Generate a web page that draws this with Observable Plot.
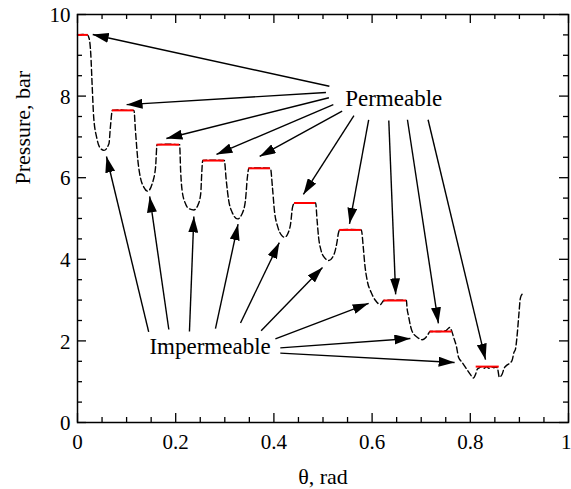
<!DOCTYPE html>
<html>
<head>
<meta charset="utf-8">
<script src="https://cdn.jsdelivr.net/npm/d3@7"></script>
<script src="https://cdn.jsdelivr.net/npm/@observablehq/plot@0.6"></script>
<style>
  html, body { margin: 0; padding: 0; background: #fff; }
</style>
</head>
<body>
<div id="chart"></div>
<script>
// ---- Data ----
const thetaRad = [
  0.000, 0.010, 0.020, 0.024, 0.027, 0.030, 0.033, 0.039, 0.045, 0.054, 0.064, 0.067, 0.071,
  0.085, 0.100, 0.115,
  0.118, 0.123, 0.128, 0.135, 0.143, 0.152, 0.159, 0.162,
  0.185, 0.208,
  0.210, 0.213, 0.220, 0.227, 0.237, 0.245, 0.251, 0.253, 0.255,
  0.277, 0.299,
  0.303, 0.308, 0.315, 0.326, 0.335, 0.342, 0.346, 0.349,
  0.371, 0.393,
  0.397, 0.401, 0.408, 0.415, 0.422, 0.428, 0.434, 0.438, 0.442,
  0.464, 0.485,
  0.488, 0.491, 0.496, 0.503, 0.512, 0.519, 0.525, 0.529, 0.531, 0.534,
  0.556, 0.578,
  0.582, 0.585, 0.590, 0.598, 0.607, 0.617, 0.621, 0.624,
  0.647, 0.670,
  0.671, 0.674, 0.681, 0.692, 0.702, 0.709, 0.714, 0.718,
  0.735, 0.750, 0.753, 0.758, 0.762,
  0.766, 0.772, 0.776, 0.783, 0.792, 0.800, 0.806, 0.811, 0.814,
  0.818, 0.823, 0.828, 0.833, 0.838, 0.843, 0.848, 0.853, 0.856, 0.859, 0.865, 0.869,
  0.874, 0.880, 0.885, 0.889, 0.892, 0.895, 0.899, 0.902, 0.906
];
const pressureBar = [
  9.50, 9.51, 9.50, 9.40, 9.04, 8.22, 7.48, 6.99, 6.75, 6.67, 6.83, 7.24, 7.65,
  7.66, 7.65, 7.65,
  7.16, 6.42, 6.01, 5.77, 5.67, 5.85, 6.26, 6.81,
  6.82, 6.81,
  6.18, 5.69, 5.36, 5.24, 5.21, 5.32, 5.61, 6.10, 6.42,
  6.43, 6.42,
  5.93, 5.44, 5.15, 4.99, 5.11, 5.44, 6.01, 6.23,
  6.24, 6.23,
  5.77, 5.20, 4.79, 4.60, 4.54, 4.62, 4.87, 5.28, 5.38,
  5.39, 5.38,
  4.95, 4.54, 4.22, 4.04, 3.97, 4.04, 4.22, 4.46, 4.62, 4.72,
  4.73, 4.72,
  4.30, 3.89, 3.48, 3.19, 2.99, 2.89, 2.95, 2.99,
  3.00, 2.99,
  2.83, 2.62, 2.25, 2.09, 2.03, 2.08, 2.16, 2.23,
  2.23, 2.25, 2.28, 2.33, 2.25,
  2.09, 1.85, 1.60, 1.48, 1.32, 1.18, 1.09, 1.19, 1.30,
  1.34, 1.37, 1.33, 1.37, 1.33, 1.37, 1.34, 1.36, 1.30, 1.11, 1.19, 1.33,
  1.40, 1.45, 1.52, 1.72, 1.80, 2.09, 2.66, 3.05, 3.15
];

// permeable (red) plateaus
const plateauStart = [0.002, 0.071, 0.162, 0.256, 0.349, 0.442, 0.534, 0.624, 0.718, 0.812];
const plateauEnd   = [0.022, 0.115, 0.208, 0.299, 0.393, 0.485, 0.578, 0.670, 0.763, 0.859];
const plateauLevel = [9.50, 7.65, 6.81, 6.42, 6.23, 5.38, 4.72, 2.99, 2.23, 1.37];

// annotation arrows (data coordinates): from label to feature
const permFromX = [0.513, 0.506, 0.512, 0.521, 0.539, 0.563, 0.593, 0.634, 0.672, 0.714];
const permFromY = [8.24, 8.09, 7.96, 7.79, 7.63, 7.52, 7.42, 7.40, 7.42, 7.42];
const permToX   = [0.031, 0.100, 0.181, 0.283, 0.371, 0.460, 0.554, 0.648, 0.735, 0.831];
const permToY   = [9.51, 7.79, 6.96, 6.57, 6.52, 5.59, 4.87, 3.14, 2.43, 1.54];

const impFromX = [0.145, 0.186, 0.228, 0.281, 0.332, 0.374, 0.403, 0.413, 0.413];
const impFromY = [2.22, 2.28, 2.23, 2.30, 2.44, 2.25, 2.05, 1.83, 1.70];
const impToX   = [0.059, 0.147, 0.237, 0.327, 0.411, 0.499, 0.593, 0.678, 0.768];
const impToY   = [6.52, 5.54, 5.05, 4.86, 4.41, 3.80, 2.92, 2.06, 1.47];

const labelText = ["Permeable", "Impermeable"];
const labelX = [0.644, 0.270];
const labelY = [7.95, 1.87];

const xMajor = [0, 0.2, 0.4, 0.6, 0.8, 1];
const yMajor = [0, 2, 4, 6, 8, 10];
const xMinor = d3.range(1, 20).map(i => i * 0.05).filter(v => Math.abs(v * 5 - Math.round(v * 5)) > 1e-9);
const yMinor = d3.range(1, 20).map(i => i * 0.5).filter(v => v % 2 !== 0);

const xTitle = "θ, rad";
const yTitle = "Pressure, bar";

// ---- Build tables ----
const curve = thetaRad.map((x, i) => ({x, y: pressureBar[i]}));
const plateaus = plateauLevel.map((y, i) => ({x1: plateauStart[i], x2: plateauEnd[i], y}));
const arrows = [
  ...permFromX.map((x, i) => ({x1: x, y1: permFromY[i], x2: permToX[i], y2: permToY[i]})),
  ...impFromX.map((x, i) => ({x1: x, y1: impFromY[i], x2: impToX[i], y2: impToY[i]}))
];
const labels = labelText.map((t, i) => ({t, x: labelX[i], y: labelY[i]}));

const W = 571, H = 489;
const mTop = 14, mBottom = 67, mLeft = 77, mRight = 3;
const innerW = W - mLeft - mRight, innerH = H - mTop - mBottom;
const major = 9, minor = 5;
const font = "'Liberation Serif', 'Times New Roman', serif";

const xInner = xMajor.slice(0, -1);
const xLast = xMajor.slice(-1);

const chart = Plot.plot({
  width: W, height: H,
  marginTop: mTop, marginBottom: mBottom, marginLeft: mLeft, marginRight: mRight,
  style: {fontFamily: font, fontSize: "21px", background: "#fff", color: "#000"},
  x: {domain: [0, 1]},
  y: {domain: [0, 10]},
  marks: [
    // inward ticks on all four sides
    Plot.tickX(xMajor, {x: d => d, insetTop: innerH - major, stroke: "#000", strokeWidth: 1.3}),
    Plot.tickX(xMajor, {x: d => d, insetBottom: innerH - major, stroke: "#000", strokeWidth: 1.3}),
    Plot.tickX(xMinor, {x: d => d, insetTop: innerH - minor, stroke: "#000", strokeWidth: 1.3}),
    Plot.tickX(xMinor, {x: d => d, insetBottom: innerH - minor, stroke: "#000", strokeWidth: 1.3}),
    Plot.tickY(yMajor, {y: d => d, insetRight: innerW - major, stroke: "#000", strokeWidth: 1.3}),
    Plot.tickY(yMajor, {y: d => d, insetLeft: innerW - major, stroke: "#000", strokeWidth: 1.3}),
    Plot.tickY(yMinor, {y: d => d, insetRight: innerW - minor, stroke: "#000", strokeWidth: 1.3}),
    Plot.tickY(yMinor, {y: d => d, insetLeft: innerW - minor, stroke: "#000", strokeWidth: 1.3}),
    Plot.axisX({ticks: xInner, tickSize: 0, tickPadding: 12, tickFormat: d => String(d), label: null, fontSize: 21}),
    Plot.axisX({ticks: xLast, tickSize: 0, tickPadding: 12, tickFormat: d => String(d), label: null, fontSize: 21, textAnchor: "end", dx: 3}),
    Plot.axisY({ticks: yMajor, tickSize: 0, tickPadding: 7, tickFormat: d => String(d), label: null, fontSize: 21, dy: 1}),
    // axis titles
    Plot.text([xTitle], {frameAnchor: "bottom", dy: 61, lineAnchor: "bottom", fontSize: 22, fill: "#000"}),
    Plot.text([yTitle], {frameAnchor: "left", dx: -48, dy: -34, rotate: -90, lineAnchor: "bottom", fontSize: 22, fill: "#000"}),
    // curve
    Plot.line(curve, {x: "x", y: "y", stroke: "#000", strokeWidth: 1.4, strokeDasharray: "6,3", curve: "monotone-x"}),
    // red plateaus
    Plot.ruleY(plateaus, {y: "y", x1: "x1", x2: "x2", stroke: "#ff0000", strokeWidth: 2}),
    // arrows
    Plot.link(arrows, {x1: "x1", y1: "y1", x2: "x2", y2: "y2", stroke: "#000", strokeWidth: 1.4}),
    // labels
    Plot.text(labels, {x: "x", y: "y", text: "t", fontSize: 23, fill: "#000"}),
    Plot.frame({stroke: "#000", strokeWidth: 1.5})
  ]
});

// filled arrowheads
const svg = d3.select(chart);
const defs = svg.insert("defs", ":first-child");
defs.append("marker")
  .attr("id", "ahead")
  .attr("markerUnits", "userSpaceOnUse")
  .attr("viewBox", "0 -5 16 10")
  .attr("refX", 16).attr("refY", 0)
  .attr("markerWidth", 16).attr("markerHeight", 10)
  .attr("orient", "auto")
  .append("path").attr("d", "M0,-5L16,0L0,5Z").attr("fill", "#000");
svg.selectAll('g[aria-label="link"] path').attr("marker-end", "url(#ahead)");

document.getElementById("chart").appendChild(chart);
</script>
</body>
</html>
